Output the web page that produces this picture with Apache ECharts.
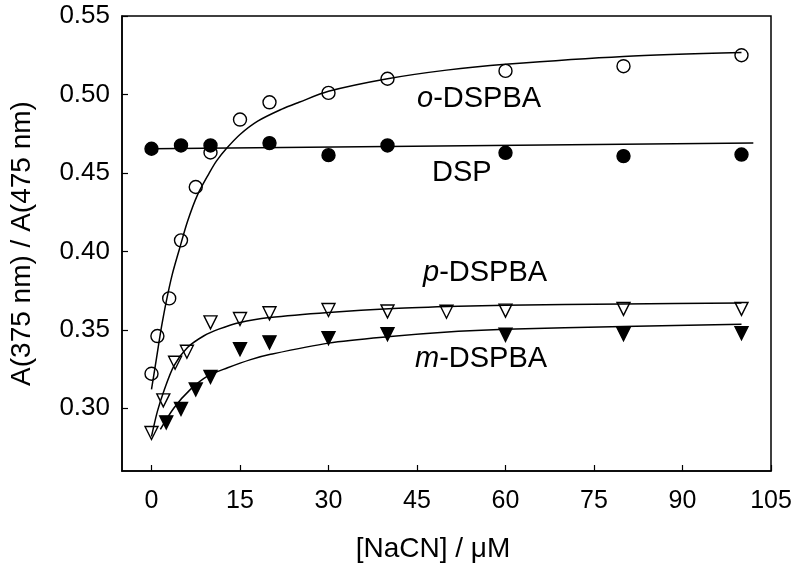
<!DOCTYPE html>
<html>
<head>
<meta charset="utf-8">
<script src="https://cdn.jsdelivr.net/npm/echarts@6/dist/echarts.min.js"></script>
<style>html,body{margin:0;padding:0;background:#fff;}#c{width:800px;height:577px;}</style>
</head>
<body>
<div id="c"></div>
<script>
// measured points
var oX = [0, 1, 3, 5, 7.5, 10, 15, 20, 30, 40, 60, 80, 100];
var oY = [0.322, 0.346, 0.370, 0.407, 0.441, 0.463, 0.484, 0.495, 0.501, 0.510, 0.515, 0.518, 0.525];
var dspX = [0, 5, 10, 20, 30, 40, 60, 80, 100];
var dspY = [0.4654, 0.4675, 0.4675, 0.469, 0.4613, 0.4675, 0.4628, 0.4607, 0.4617];
var pX = [0, 2, 4, 6, 10, 15, 20, 30, 40, 50, 60, 80, 100];
var pY = [0.2842, 0.305, 0.329, 0.336, 0.3547, 0.3569, 0.3605, 0.3626, 0.3617, 0.3615, 0.3622, 0.3633, 0.3633];
var mX = [2.5, 5, 7.5, 10, 15, 20, 30, 40, 60, 80, 100];
var mY = [0.291, 0.2995, 0.312, 0.320, 0.3376, 0.342, 0.3447, 0.3472, 0.3468, 0.3472, 0.3479];

// fitted curves
var oCurveX = [0, 0.6, 1.1, 1.7, 2.5, 3.5, 4.7, 6.1, 7.8, 9.8, 11, 12.7, 15, 18, 22, 25, 30, 40, 50, 60, 80, 100];
var oCurveY = [0.312, 0.326, 0.338, 0.352, 0.368, 0.385, 0.401, 0.419, 0.436, 0.450, 0.4575, 0.4655, 0.4745, 0.483, 0.4905, 0.495, 0.502, 0.510, 0.5155, 0.5192, 0.5242, 0.5267];
var dspLineX = [0, 102];
var dspLineY = [0.4654, 0.469];
var pCurveX = [0, 1, 2.1, 3.8, 6.1, 8.9, 11.4, 15, 20, 30, 41, 52, 60, 80, 100];
var pCurveY = [0.282, 0.298, 0.311, 0.327, 0.3387, 0.3462, 0.3504, 0.3547, 0.3578, 0.3611, 0.3636, 0.3650, 0.3656, 0.3665, 0.3671];
var mCurveX = [1.5, 3.8, 6.6, 9.5, 12.9, 16.8, 20, 30, 40, 52, 60, 80, 100];
var mCurveY = [0.2865, 0.3002, 0.312, 0.3205, 0.3258, 0.331, 0.3342, 0.3415, 0.3455, 0.349, 0.3504, 0.3521, 0.3536];

var xTitle = '[NaCN] / \u03bcM';
var yTitle = 'A(375 nm) / A(475 nm)';

function zip(a, b) { return a.map(function (v, i) { return [v, b[i]]; }); }

var FONT = 'Liberation Sans, Arial, Helvetica, sans-serif';
var chart = echarts.init(document.getElementById('c'), null, { renderer: 'canvas' });

function curve(x, y) {
  return { type: 'line', data: zip(x, y), smooth: 0.3, symbol: 'none', z: 3,
    lineStyle: { color: '#000', width: 1.5 }, silent: true };
}
function pts(x, y, sym, filled, rot) {
  return { type: 'scatter', data: zip(x, y), symbol: sym, symbolSize: 13,
    symbolRotate: rot || 0, z: 2,
    itemStyle: { color: filled ? '#000' : 'rgba(255,255,255,0)', borderColor: '#000', borderWidth: 1.4, opacity: 1 } };
}

chart.setOption({
  backgroundColor: '#fff',
  animation: false,
  grid: { left: 122, right: 29, top: 16, bottom: 106, show: true, borderColor: '#000', borderWidth: 1.5 },
  xAxis: {
    type: 'value', min: -5, max: 105, minInterval: 15, maxInterval: 15, splitNumber: 7,
    name: xTitle, nameLocation: 'middle', nameGap: 64,
    nameTextStyle: { fontFamily: FONT, fontSize: 28, color: '#000', padding: [0, 27, 0, 0] },
    axisLine: { show: true, onZero: false, lineStyle: { color: '#000', width: 1.5 } },
    axisTick: { show: true, inside: true, length: 6, lineStyle: { color: '#000', width: 1.2 } },
    axisLabel: { showMinLabel: false, margin: 18, fontFamily: FONT, fontSize: 25, color: '#000' },
    splitLine: { show: false }
  },
  yAxis: {
    type: 'value', min: 0.26, max: 0.55, minInterval: 0.05, maxInterval: 0.05, splitNumber: 6,
    name: yTitle, nameLocation: 'middle', nameGap: 86,
    nameTextStyle: { fontFamily: FONT, fontSize: 28, color: '#000' },
    axisLine: { show: true, onZero: false, lineStyle: { color: '#000', width: 1.5 } },
    axisTick: { show: true, inside: true, length: 6, lineStyle: { color: '#000', width: 1.2 } },
    axisLabel: { showMinLabel: false, margin: 12, fontFamily: FONT, fontSize: 26, color: '#000',
      formatter: function (v) { return v.toFixed(2); } },
    splitLine: { show: false }
  },
  series: [
    pts(oX, oY, 'circle', false),
    pts(dspX, dspY, 'circle', true),
    pts(pX, pY, 'triangle', false, 180),
    pts(mX, mY, 'triangle', true, 180),
    curve(oCurveX, oCurveY),
    { type: 'line', data: zip(dspLineX, dspLineY), symbol: 'none', z: 3, lineStyle: { color: '#000', width: 1.5 } },
    curve(pCurveX, pCurveY),
    curve(mCurveX, mCurveY)
  ],
  graphic: [
    { type: 'text', left: 417, top: 84, style: { text: '{i|o}-DSPBA', fontFamily: FONT, fontSize: 29, fill: '#000',
      rich: { i: { fontStyle: 'italic', fontFamily: FONT, fontSize: 29 } } } },
    { type: 'text', left: 432, top: 158, style: { text: 'DSP', fontFamily: FONT, fontSize: 29, fill: '#000' } },
    { type: 'text', left: 423, top: 258, style: { text: '{i|p}-DSPBA', fontFamily: FONT, fontSize: 29, fill: '#000',
      rich: { i: { fontStyle: 'italic', fontFamily: FONT, fontSize: 29 } } } },
    { type: 'text', left: 415, top: 344, style: { text: '{i|m}-DSPBA', fontFamily: FONT, fontSize: 29, fill: '#000',
      rich: { i: { fontStyle: 'italic', fontFamily: FONT, fontSize: 29 } } } }
  ]
});
</script>
</body>
</html>
